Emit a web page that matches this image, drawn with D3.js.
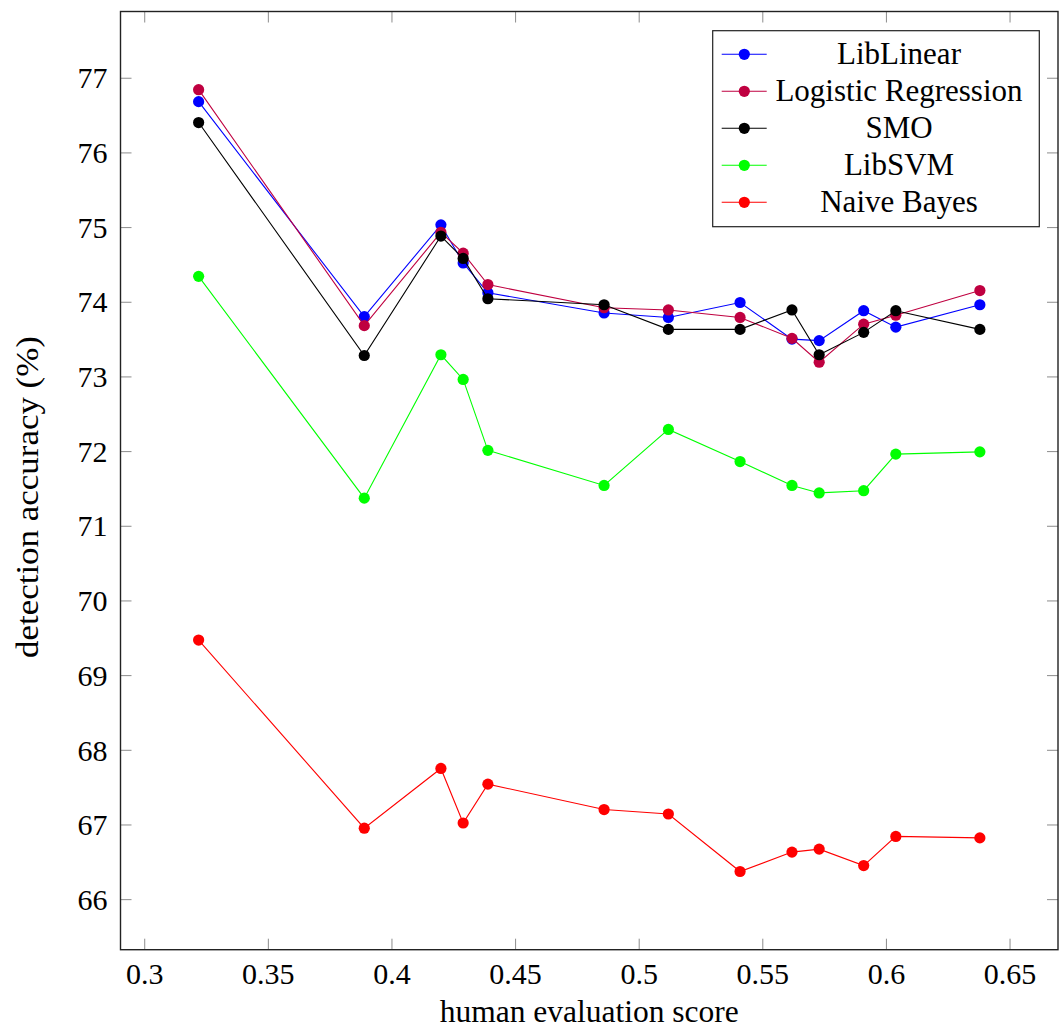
<!DOCTYPE html>
<html>
<head>
<meta charset="utf-8">
<script src="https://cdn.jsdelivr.net/npm/d3@7"></script>
<style>
  html, body { margin: 0; padding: 0; background: #fff; }
  svg { display: block; }
  text { font-family: "Liberation Serif", "Times New Roman", serif; fill: #000; }
</style>
</head>
<body>
<svg id="chart" width="1061" height="1029"></svg>
<script>
const xValues = [0.322, 0.389, 0.420, 0.429, 0.439, 0.486, 0.512, 0.541, 0.562, 0.573, 0.591, 0.604, 0.638];

const libLinear = [76.68, 73.80, 75.03, 74.52, 74.12, 73.85, 73.79, 73.99, 73.50, 73.48, 73.88, 73.66, 73.96];
const logisticRegression = [76.84, 73.68, 74.93, 74.65, 74.23, 73.92, 73.89, 73.79, 73.51, 73.19, 73.70, 73.82, 74.15];
const smo = [76.40, 73.28, 74.88, 74.58, 74.04, 73.96, 73.63, 73.63, 73.89, 73.29, 73.59, 73.88, 73.63];
const libSVM = [74.34, 71.37, 73.29, 72.96, 72.01, 71.54, 72.29, 71.86, 71.54, 71.44, 71.47, 71.96, 71.99];
const naiveBayes = [69.47, 66.95, 67.75, 67.02, 67.54, 67.20, 67.14, 66.37, 66.63, 66.67, 66.45, 66.84, 66.82];

const seriesNames = ["LibLinear", "Logistic Regression", "SMO", "LibSVM", "Naive Bayes"];
const seriesColors = ["#0000ff", "#bf0040", "#000000", "#00ff00", "#ff0000"];
const seriesValues = [libLinear, logisticRegression, smo, libSVM, naiveBayes];

const xTicks = [0.3, 0.35, 0.4, 0.45, 0.5, 0.55, 0.6, 0.65];
const yTicks = [66, 67, 68, 69, 70, 71, 72, 73, 74, 75, 76, 77];

const xLabel = "human evaluation score";
const yLabel = "detection accuracy (%)";

(function () {
const svg = d3.select("#chart");
const pLeft = 120.5, pRight = 1058, pTop = 11.5, pBottom = 949.7;

// pgfplots-like 10% enlargement of limits
const xExt = d3.extent(xValues);
const xPad = (xExt[1] - xExt[0]) * 0.1;
const allY = seriesValues.flat();
const yExt = d3.extent(allY);
const yPad = (yExt[1] - yExt[0]) * 0.1;

const x = d3.scaleLinear().domain([xExt[0] - xPad, xExt[1] + xPad]).range([pLeft, pRight]);
const y = d3.scaleLinear().domain([yExt[0] - yPad, yExt[1] + yPad]).range([pBottom, pTop]);

const tickLen = 11;
const fmt = d => String(d);

// bottom axis
const xAxisB = d3.axisBottom(x).tickValues(xTicks).tickSizeInner(-tickLen).tickSizeOuter(0).tickPadding(13).tickFormat(fmt);
const gxb = svg.append("g").attr("transform", `translate(0,${pBottom})`).call(xAxisB);
gxb.select(".domain").remove();
gxb.selectAll(".tick line").attr("stroke", "#8c8c8c").attr("stroke-width", 1);
gxb.selectAll(".tick text").attr("font-size", 30).attr("font-family", "Liberation Serif, serif").attr("fill", "#000");

// top axis ticks
const xAxisT = d3.axisTop(x).tickValues(xTicks).tickSizeInner(-tickLen).tickSizeOuter(0).tickFormat("");
const gxt = svg.append("g").attr("transform", `translate(0,${pTop})`).call(xAxisT);
gxt.select(".domain").remove();
gxt.selectAll(".tick line").attr("stroke", "#8c8c8c").attr("stroke-width", 1);

// left axis
const yAxisL = d3.axisLeft(y).tickValues(yTicks).tickSizeInner(-tickLen).tickSizeOuter(0).tickPadding(13).tickFormat(fmt);
const gyl = svg.append("g").attr("transform", `translate(${pLeft},0)`).call(yAxisL);
gyl.select(".domain").remove();
gyl.selectAll(".tick line").attr("stroke", "#8c8c8c").attr("stroke-width", 1);
gyl.selectAll(".tick text").attr("font-size", 30).attr("font-family", "Liberation Serif, serif").attr("fill", "#000").attr("dy", "0.34em");

// right axis ticks
const yAxisR = d3.axisRight(y).tickValues(yTicks).tickSizeInner(-tickLen).tickSizeOuter(0).tickFormat("");
const gyr = svg.append("g").attr("transform", `translate(${pRight},0)`).call(yAxisR);
gyr.select(".domain").remove();
gyr.selectAll(".tick line").attr("stroke", "#8c8c8c").attr("stroke-width", 1);

// frame
svg.append("rect")
  .attr("x", pLeft).attr("y", pTop)
  .attr("width", pRight - pLeft).attr("height", pBottom - pTop)
  .attr("fill", "none").attr("stroke", "#222").attr("stroke-width", 1.4);

// series
const line = d3.line().x((d, i) => x(xValues[i])).y(d => y(d));
seriesValues.forEach((vals, si) => {
  const g = svg.append("g");
  g.append("path").datum(vals)
    .attr("d", line)
    .attr("fill", "none")
    .attr("stroke", seriesColors[si])
    .attr("stroke-width", 1.1);
  g.selectAll("circle").data(vals).enter().append("circle")
    .attr("cx", (d, i) => x(xValues[i]))
    .attr("cy", d => y(d))
    .attr("r", 5.6)
    .attr("fill", seriesColors[si]);
});

// legend
const lg = svg.append("g");
lg.append("rect").attr("x", 712.7).attr("y", 30.7).attr("width", 326.6).attr("height", 196)
  .attr("fill", "#fff").attr("stroke", "#222").attr("stroke-width", 1.2);
seriesNames.forEach((name, i) => {
  const cy = 54.3 + i * 37;
  lg.append("line").attr("x1", 721.7).attr("x2", 766.7).attr("y1", cy).attr("y2", cy)
    .attr("stroke", seriesColors[i]).attr("stroke-width", 1.1);
  lg.append("circle").attr("cx", 744.3).attr("cy", cy).attr("r", 5.6).attr("fill", seriesColors[i]);
  lg.append("text").attr("x", 899).attr("y", cy + 9.5)
    .attr("text-anchor", "middle").attr("font-size", 31).text(name);
});

// axis labels
svg.append("text").attr("x", (pLeft + pRight) / 2).attr("y", 1022)
  .attr("text-anchor", "middle").attr("font-size", 31.5).text(xLabel);
svg.append("text")
  .attr("transform", `translate(38,497) rotate(-90)`)
  .attr("text-anchor", "middle").attr("font-size", 31.5)
  .attr("textLength", 322).attr("lengthAdjust", "spacingAndGlyphs")
  .text(yLabel);
})();
</script>
</body>
</html>
